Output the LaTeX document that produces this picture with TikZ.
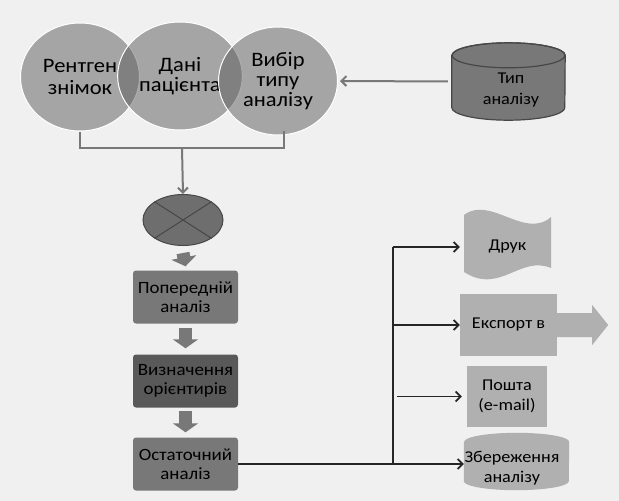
\documentclass[tikz,border=0pt]{standalone}
\usepackage{fontspec}
\setmainfont{Carlito}[FakeStretch=1.1]
\usetikzlibrary{arrows.meta,shapes.geometric,calc,backgrounds}
\definecolor{bgcol}{gray}{0.94}
\definecolor{circcol}{RGB}{92,92,92}
\definecolor{midcol}{gray}{0.47}
\definecolor{darkcol}{gray}{0.35}
\definecolor{crosscol}{gray}{0.43}
\definecolor{litecol}{gray}{0.69}
\definecolor{edgecol}{gray}{0.28}
\definecolor{linecol}{gray}{0.15}

\begin{document}
\begin{tikzpicture}[x=1pt,y=-1pt,
circ/.style={ellipse,minimum width=119pt,minimum height=108pt,
fill=circcol,fill opacity=0.5,text opacity=1,draw=white,line width=1pt,
align=center,font=\fontsize{20.5}{20}\selectfont},
box/.style={rectangle,rounded corners=3pt,fill=midcol,minimum width=105pt,
minimum height=53pt,align=center,font=\fontsize{17.2}{19}\selectfont},
litebox/.style={rectangle,fill=litecol,align=center,
font=\fontsize{16.5}{20.5}\selectfont},
lbl/.style={align=center,font=\fontsize{16.5}{20.5}\selectfont},
gline/.style={draw=midcol,line width=2pt},
garrow/.style={gline,-{Straight Barb[length=5pt,width=10pt]}},
fat/.style={draw=midcol,line width=13pt,-{Triangle[width=25pt,length=9pt]}},
dline/.style={draw=linecol,line width=1.8pt},
darrow/.style={dline,-{Straight Barb[length=5pt,width=10pt]}}]
\useasboundingbox (0,0) rectangle (619,501);

\node[circ] (rtg) at (80,77) {Рентген\\[2pt]знімок};
\node[circ] (dani) at (180,76) {Дані\\пацієнта};
\node[circ] (vybir) at (278,81) {Вибір\\типу\\аналізу};

\node[minimum width=113pt,minimum height=77pt] (typ) at (508.5,81.5) {};
\node[lbl] (typtext) at (511,90) {Тип\\аналізу};

\coordinate (br) at (182,148);
\draw[gline] (rtg.south) |- (br) -| ([xshift=6pt,yshift=5pt]vybir.south);
\draw[garrow,shorten <=4pt,shorten >=2pt] (typ.west) -- (vybir.east);

\node[ellipse,fill=crosscol,draw=edgecol,line width=1pt,
minimum width=80pt,minimum height=51pt] (cross) at (183,220) {};
\draw[edgecol,line width=1pt] (cross.north west) -- (cross.south east)
(cross.north east) -- (cross.south west);
\draw[garrow] (br) -- (cross.north);

\node[box] (pre) at (185.5,297) {Попередній\\аналіз};
\node[box,fill=darkcol] (orient) at (185.5,381) {Визначення\\орієнтирів};
\node[box] (final) at (185.5,464) {Остаточний\\аналіз};

\draw[fat] ([yshift=-7pt]cross.south) -- ([yshift=4pt]pre.north);
\draw[fat] ([yshift=-4pt]pre.south) -- ([yshift=6pt]orient.north);
\draw[fat] ([yshift=-3pt]orient.south) -- ([yshift=5pt]final.north);

\node[lbl,minimum width=87pt] (druk) at (507.5,247) {Друк};
\node[litebox,minimum width=97pt,minimum height=62pt] (exp) at (508.5,325) {Експорт в};
\node[litebox,minimum width=80pt,minimum height=61pt] (mail) at (507,396.5) {Пошта\\(e-mail)};
\node[minimum width=105pt,minimum height=57pt] (save) at (516.5,461.5) {};
\node[lbl] (savetext) at (512,468) {Збереження\\аналізу};

\begin{scope}[on background layer]
\fill[bgcol] (0,0) rectangle (619,501);
\filldraw[fill=midcol,draw=edgecol,line width=1.2pt]
([yshift=-12.5pt]typ.north west) -- ([yshift=12.5pt]typ.south west)
arc[start angle=180,end angle=360,x radius=56.5pt,y radius=12.5pt]
-- ([yshift=-12.5pt]typ.north east)
arc[start angle=0,end angle=180,x radius=56.5pt,y radius=12.5pt] -- cycle;
\draw[edgecol,line width=1.2pt] ([yshift=-12.5pt]typ.north)
ellipse[x radius=56.5pt,y radius=12.5pt];
\fill[litecol] (464,215) .. controls (490,195) and (525,240) .. (551,217)
-- (551,268) .. controls (520,255) and (500,295) .. (464,272) -- cycle;
\fill[litecol] (exp.east) ++(0,-12) -- ++(35,0) -- ++(0,-8) -- ++(16,20)
-- ++(-16,20) -- ++(0,-8) -- ++(-35,0) -- cycle;
\fill[litecol] ([yshift=-9pt]save.north west) -- ([yshift=9pt]save.south west)
arc[start angle=180,end angle=360,x radius=52.5pt,y radius=9pt]
-- ([yshift=-9pt]save.north east)
arc[start angle=0,end angle=180,x radius=52.5pt,y radius=9pt] -- cycle;
\end{scope}

\coordinate (fork) at (393,464);
\coordinate (forktop) at (393,247);
\draw[dline] (final.east) -- (fork);
\draw[dline] (fork) -- (forktop);
\draw[darrow,shorten >=4pt] (forktop) -- (druk.west);
\draw[darrow] (fork |- exp.west) -- (exp.west);
\draw[darrow,shorten >=5pt] ($(fork |- mail.west)+(4,0)$) -- (mail.west);
\draw[darrow] (fork) -- (fork -| save.west);
\end{tikzpicture}
\end{document}
